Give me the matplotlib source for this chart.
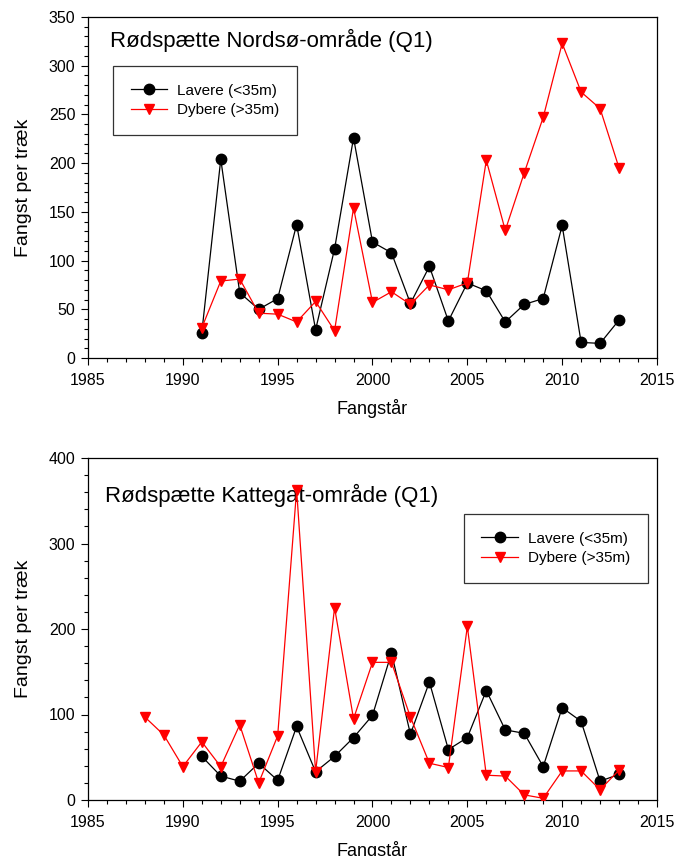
import matplotlib
matplotlib.use("Agg")
import matplotlib.pyplot as plt
from matplotlib.ticker import MultipleLocator

plt.rcParams['font.family'] = ['Liberation Sans', 'DejaVu Sans']

# ---- Data: Nordsø ----
years_ns = list(range(1991, 2014))
lavere_ns = [26, 204, 67, 50, 61, 137, 29, 112, 226, 119, 108, 56, 94, 38,
             77, 69, 37, 55, 61, 136, 16, 15, 39]
dybere_ns = [31, 79, 81, 46, 45, 37, 58, 28, 154, 57, 68, 55, 75, 70,
             77, 203, 131, 190, 247, 323, 273, 256, 195]

# ---- Data: Kattegat ----
years_kat_lav = list(range(1991, 2014))
lavere_kat = [51, 28, 22, 43, 23, 86, 33, 51, 73, 99, 172, 77, 138, 59,
              73, 128, 82, 78, 39, 108, 92, 22, 30]
years_kat_dyb = list(range(1988, 2014))
dybere_kat = [97, 76, 39, 68, 39, 88, 20, 75, 363, 33, 225, 95, 161, 161,
              97, 43, 38, 203, 29, 28, 6, 2, 34, 34, 12, 35]

labels = ["Lavere (<35m)", "Dybere (>35m)"]
titles = ["Rødspætte Nordsø-område (Q1)", "Rødspætte Kattegat-område (Q1)"]
xlabel = "Fangstår"
ylabel = "Fangst per træk"

fig = plt.figure(figsize=(6.85, 8.56), dpi=100)
W, H = 685, 856

def make_axes(left, top, right, bottom):
    return fig.add_axes([left / W, 1 - bottom / H, (right - left) / W, (bottom - top) / H])

ax1 = make_axes(88, 17, 657, 358)
ax2 = make_axes(88, 458, 657, 800)

def style(ax, ymax, ymajor, yminor):
    ax.set_xlim(1985, 2015)
    ax.set_ylim(0, ymax)
    ax.xaxis.set_major_locator(MultipleLocator(5))
    ax.xaxis.set_minor_locator(MultipleLocator(1))
    ax.yaxis.set_major_locator(MultipleLocator(ymajor))
    ax.yaxis.set_minor_locator(MultipleLocator(yminor))
    ax.tick_params(which='both', direction='out', top=False, right=False,
                   labelsize=11.5, width=0.8)
    ax.tick_params(axis='x', which='both', pad=5.5)
    ax.tick_params(axis='y', which='both', pad=4)
    ax.tick_params(which='major', length=5)
    ax.tick_params(which='minor', length=3)
    for s in ax.spines.values():
        s.set_linewidth(0.9)
    ax.set_xlabel(xlabel, fontsize=13, labelpad=8)
    ax.set_ylabel(ylabel, fontsize=14, labelpad=12)

ms = 7.5
lw = 0.9
legkw = dict(fontsize=11, frameon=True, fancybox=False, edgecolor='black',
             handlelength=2.4, handletextpad=0.65, borderpad=1.15,
             labelspacing=0.38, borderaxespad=0)

# Top chart
ax1.plot(years_ns, lavere_ns, color='black', marker='o', markersize=ms, lw=lw, label=labels[0], zorder=3)
ax1.plot(years_ns, dybere_ns, color='red', marker='v', markersize=ms, lw=lw, label=labels[1], zorder=3)
style(ax1, 350, 50, 10)
ax1.text(0.039, 0.93, titles[0], transform=ax1.transAxes, fontsize=16, ha='left', va='center', zorder=1)
leg1 = ax1.legend(loc='upper left', bbox_to_anchor=(0.044, 0.856), **legkw)
leg1.get_frame().set_linewidth(0.9)

# Bottom chart
ax2.plot(years_kat_lav, lavere_kat, color='black', marker='o', markersize=ms, lw=lw, label=labels[0], zorder=3)
ax2.plot(years_kat_dyb, dybere_kat, color='red', marker='v', markersize=ms, lw=lw, label=labels[1], zorder=3)
style(ax2, 400, 100, 20)
ax2.text(0.03, 0.89, titles[1], transform=ax2.transAxes, fontsize=16, ha='left', va='center', zorder=1)
leg2 = ax2.legend(loc='upper right', bbox_to_anchor=(0.984, 0.836), **legkw)
leg2.get_frame().set_linewidth(0.9)

fig.savefig("out.png", dpi=100)
